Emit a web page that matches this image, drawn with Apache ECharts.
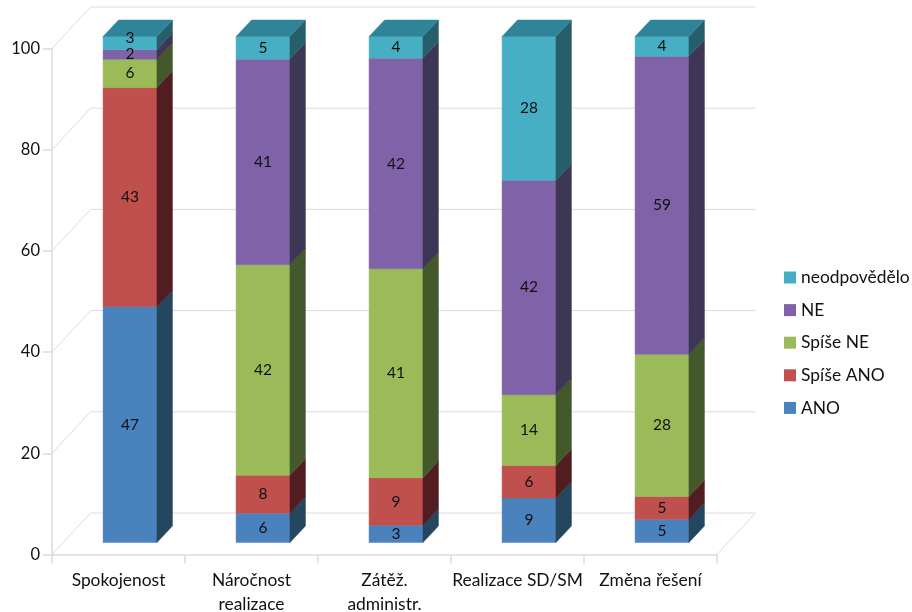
<!DOCTYPE html>
<html>
<head>
<meta charset="utf-8">
<style>html,body{margin:0;padding:0;background:#fff}#chart{width:912px;height:612px}</style>
<script src="https://cdn.jsdelivr.net/npm/echarts@6/dist/echarts.min.js"></script>
</head>
<body>
<div id="chart"></div>
<script>
// Survey answers per topic, in percent; labels show the rounded figure.
const categories = ['Spokojenost', 'Náročnost\nrealizace', 'Zátěž.\nadministr.', 'Realizace SD/SM', 'Změna řešení'];
const ano        = [46.6, 5.8, 3.4, 8.8, 4.6];
const spiseAno   = [43.3, 7.5, 9.4, 6.4, 4.5];
const spiseNe    = [5.6, 41.6, 41.3, 14.0, 28.1];
const ne         = [1.9, 40.6, 41.6, 42.4, 58.9];
const neodpov    = [2.6, 4.5, 4.3, 28.4, 3.9];
const yTicks     = [0, 20, 40, 60, 80, 100];

const seriesDefs = [
  { name: 'ANO', values: ano, front: '#4a82be', side: '#24465f', top: '#2f6a96' },
  { name: 'Spíše ANO', values: spiseAno, front: '#c0504d', side: '#521d20', top: '#8e3a38' },
  { name: 'Spíše NE', values: spiseNe, front: '#9bbb59', side: '#43592b', top: '#6f8a3e' },
  { name: 'NE', values: ne, front: '#7f62a8', side: '#3e3655', top: '#5c4680' },
  { name: 'neodpovědělo', values: neodpov, front: '#46afc4', side: '#265e6b', top: '#2f8597' }
];

const FONT = 'Lato, Carlito, sans-serif';
// Projection of the box: total depth of the walls, bar inset and bar depth.
const WALL = { dx: 38.5, dy: -41.5 };
const INSET = { dx: 11.5, dy: -12 };
const BAR = { dx: 15.5, dy: -16.5 };
const GRID_COLOR = '#dcdcdc';

function poly(points, fill) {
  return { type: 'polygon', shape: { points }, style: { fill, stroke: fill, lineWidth: 0.5 } };
}

function renderBar(def, isLast, params, api) {
  const band = api.size([1, 0])[0];
  const halfWidth = band * 0.405 / 2;
  const cat = api.value(0);
  const base = api.coord([cat, api.value(1)]);
  const top = api.coord([cat, api.value(2)]);
  const xL = base[0] - halfWidth + INSET.dx;
  const xR = base[0] + halfWidth + INSET.dx;
  const yB = base[1] + INSET.dy;
  const yT = top[1] + INSET.dy;
  const children = [
    poly([[xL, yT], [xR, yT], [xR, yB], [xL, yB]], def.front),
    poly([[xR, yT], [xR + BAR.dx, yT + BAR.dy], [xR + BAR.dx, yB + BAR.dy], [xR, yB]], def.side)
  ];
  if (isLast) {
    children.push(poly([[xL, yT], [xL + BAR.dx, yT + BAR.dy], [xR + BAR.dx, yT + BAR.dy], [xR, yT]], def.top));
  }
  // The thinnest top segment carries its figure raised so it clears the one below.
  const raise = isLast && yB - yT < 14 ? 5 : 0;
  children.push({
    type: 'text',
    z2: 10,
    style: {
      text: String(Math.round(api.value(3))),
      x: (xL + xR) / 2,
      y: (yT + yB) / 2 - raise,
      align: 'center',
      verticalAlign: 'middle',
      font: '15.5px ' + FONT,
      fill: '#111'
    }
  });
  return { type: 'group', children };
}

// Gridlines run from the front edge up the left wall and along the back wall.
function renderWalls(params, api) {
  const cs = params.coordSys;
  const v = api.value(1);
  const y = api.coord([0, v])[1];
  const xL = cs.x;
  const xR = cs.x + cs.width;
  const line = { stroke: GRID_COLOR, lineWidth: 1, fill: null };
  const children = [{
    type: 'polyline',
    shape: { points: [[xL, y], [xL + WALL.dx, y + WALL.dy], [xR + WALL.dx, y + WALL.dy]] },
    style: line
  }];
  if (v === 0) {
    children.push({
      type: 'polyline',
      shape: { points: [[xR, y], [xR + WALL.dx, y + WALL.dy]] },
      style: line
    });
  }
  return { type: 'group', children };
}

const barSeries = seriesDefs.map((def, s) => ({
  name: def.name,
  type: 'custom',
  z: 3,
  itemStyle: { color: def.front },
  encode: { x: 0, y: [1, 2] },
  data: categories.map((c, i) => {
    let start = 0;
    for (let k = 0; k < s; k++) start += seriesDefs[k].values[i];
    return [i, start, start + def.values[i], def.values[i]];
  }),
  renderItem: (params, api) => renderBar(def, s === seriesDefs.length - 1, params, api)
}));

const chart = echarts.init(document.getElementById('chart'), null, { renderer: 'canvas' });
chart.setOption({
  animation: false,
  backgroundColor: '#fff',
  grid: { left: 52, right: 195, top: 48.5, bottom: 57.5, containLabel: false, outerBoundsMode: 'none' },
  legend: {
    orient: 'vertical',
    left: 784,
    top: 269,
    padding: 0,
    icon: 'rect',
    itemWidth: 12,
    itemHeight: 12,
    itemGap: 15.6,
    selectedMode: false,
    textStyle: { fontFamily: FONT, fontSize: 17.4, color: '#111', lineHeight: 16 },
    data: seriesDefs.map(d => d.name).reverse()
  },
  xAxis: {
    type: 'category',
    data: categories,
    axisLine: { lineStyle: { color: GRID_COLOR, width: 1.5 } },
    axisTick: { show: true, length: 9, lineStyle: { color: GRID_COLOR, width: 1.5 } },
    axisLabel: { interval: 0, margin: 14, fontFamily: FONT, fontSize: 17.4, color: '#111', lineHeight: 24 },
    splitLine: { show: false }
  },
  yAxis: {
    type: 'value',
    min: 0,
    max: 100,
    interval: 20,
    axisLine: { show: true, lineStyle: { color: GRID_COLOR, width: 1.5 } },
    axisTick: { show: true, length: 9, lineStyle: { color: GRID_COLOR, width: 1.5 } },
    axisLabel: { margin: 12, fontFamily: FONT, fontSize: 16.5, color: '#111' },
    splitLine: { show: false }
  },
  series: [
    {
      type: 'custom',
      name: 'walls',
      z: 1,
      silent: true,
      encode: { x: 0, y: 1 },
      data: yTicks.map(v => [0, v]),
      renderItem: renderWalls
    }
  ].concat(barSeries)
});
</script>
</body>
</html>
